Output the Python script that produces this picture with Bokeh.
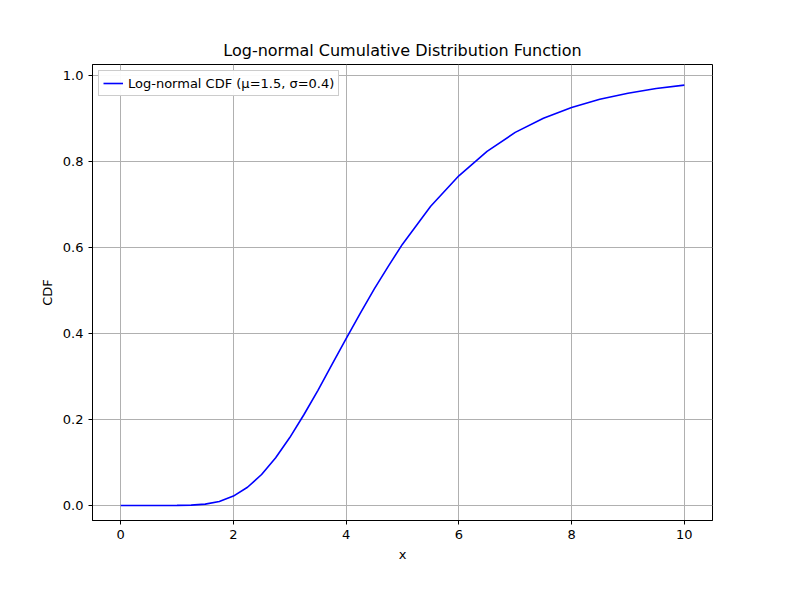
from bokeh.plotting import figure
from bokeh.models import Range1d, Legend, LegendItem, CustomJSTickFormatter
from bokeh.embed import file_html
from bokeh.resources import INLINE

x_vals = [0, 0.5, 1.0, 1.25, 1.5, 1.75, 2.0, 2.25, 2.5, 2.75, 3.0, 3.25, 3.5, 3.75, 4.0, 4.25, 4.5, 4.75, 5.0, 5.5, 6.0, 6.5, 7.0, 7.5, 8.0, 8.5, 9.0, 9.5, 10.0]
cdf_vals = [0, 0, 0.0001, 0.0007, 0.0031, 0.0094, 0.0218, 0.0424, 0.072, 0.111, 0.158, 0.211, 0.268, 0.328, 0.388, 0.447, 0.504, 0.557, 0.608, 0.696, 0.767, 0.824, 0.868, 0.901, 0.926, 0.945, 0.959, 0.970, 0.978]
x_ticks = [0, 2, 4, 6, 8, 10]
y_ticks = [0.0, 0.2, 0.4, 0.6, 0.8, 1.0]

p = figure(width=784, height=584, output_backend="svg", toolbar_location=None,
           x_range=Range1d(-0.5, 10.5), y_range=Range1d(-0.035, 1.026),
           min_border_left=92, min_border_right=72, min_border_top=64, min_border_bottom=64)
p.title.text = "Log-normal Cumulative Distribution Function"
p.title.align = "center"
p.title.text_font = "DejaVu Sans"
p.title.text_font_size = "16px"
p.title.text_font_style = "normal"
p.title.text_color = "black"
p.xaxis.axis_label = "x"
p.yaxis.axis_label = "CDF"
for ax in (p.xaxis, p.yaxis):
    ax.axis_label_text_font = "DejaVu Sans"
    ax.axis_label_text_font_style = "normal"
    ax.axis_label_text_font_size = "13px"
    ax.axis_label_text_color = "black"
    ax.major_label_text_font = "DejaVu Sans"
    ax.major_label_text_font_size = "13px"
    ax.major_label_text_color = "black"
    ax.minor_tick_line_color = None
    ax.major_tick_in = 0
    ax.major_tick_out = 4
    ax.axis_line_color = "black"
    ax.major_tick_line_color = "black"
p.xaxis.ticker = x_ticks
p.yaxis.ticker = y_ticks
p.yaxis.formatter = CustomJSTickFormatter(code="return tick.toFixed(1)")
p.grid.grid_line_color = "#b0b0b0"
p.grid.grid_line_width = 1
p.outline_line_color = "black"
r = p.line(x_vals, cdf_vals, line_color="blue", line_width=1.6)
leg = Legend(items=[LegendItem(label="Log-normal CDF (μ=1.5, σ=0.4)", renderers=[r])],
             location="top_left", label_text_font="DejaVu Sans", label_text_font_size="13px",
             label_text_color="black",
             border_line_color="#cccccc", border_line_alpha=1, margin=6, padding=4, spacing=0,
             label_height=16, glyph_height=16)
p.add_layout(leg)
open("out.html", "w").write(file_html(p, INLINE))
